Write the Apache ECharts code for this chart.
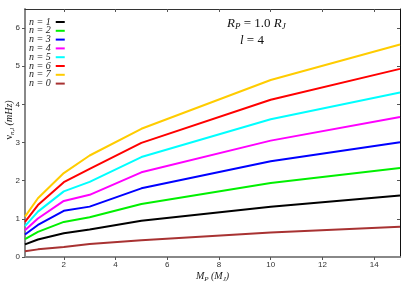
<!DOCTYPE html>
<html><head><meta charset="utf-8">
<script src="https://cdn.jsdelivr.net/npm/echarts@6/dist/echarts.min.js"></script>
<style>html,body{margin:0;padding:0;background:#fff}#c{width:415px;height:291px}</style>
</head><body><div id="c"></div>
<script>
var masses = [0.5, 1, 2, 3, 5, 10, 15];
var n1 = [0.33, 0.46, 0.62, 0.72, 0.95, 1.32, 1.61];
var n2 = [0.47, 0.66, 0.92, 1.04, 1.39, 1.94, 2.33];
var n3 = [0.59, 0.84, 1.21, 1.32, 1.80, 2.51, 3.01];
var n4 = [0.70, 1.01, 1.47, 1.63, 2.22, 3.05, 3.67];
var n5 = [0.81, 1.19, 1.72, 1.97, 2.62, 3.61, 4.31];
var n6 = [0.92, 1.36, 1.96, 2.31, 2.99, 4.12, 4.93];
var n7 = [1.06, 1.54, 2.20, 2.66, 3.36, 4.64, 5.57];
var n0 = [0.15, 0.20, 0.26, 0.34, 0.44, 0.64, 0.79];
var seriesNames = ['n = 1','n = 2','n = 3','n = 4','n = 5','n = 6','n = 7','n = 0'];
var seriesValues = [n1,n2,n3,n4,n5,n6,n7,n0];
var colors = ['#000000','#00f000','#0000ff','#ff00ff','#00ffff','#ff0000','#ffcc00','#a83232'];
var xTicks = [2,4,6,8,10,12,14];
var yTicks = [0,1,2,3,4,5,6];

var serif = '"Liberation Serif","DejaVu Serif",serif';
var sans = '"Liberation Sans","DejaVu Sans",sans-serif';

var series = seriesNames.map(function(name, i){
  return {
    name: name, type: 'line', symbol: 'none',
    lineStyle: {color: colors[i], width: 2},
    itemStyle: {color: colors[i]},
    data: masses.map(function(m, j){ return [m, seriesValues[i][j]]; }),
    xAxisIndex: 0, yAxisIndex: 0, z: 3
  };
});

var chart = echarts.init(document.getElementById('c'), null, {renderer:'canvas'});
chart.setOption({
  animation: false,
  backgroundColor: '#fff',
  grid: {left: 25, right: 15, top: 9, bottom: 34, containLabel: false, outerBoundsMode: 'none'},
  legend: {
    orient: 'vertical', left: 29, top: 17, align: 'right', padding: 0,
    icon: 'rect', itemWidth: 9, itemHeight: 2, itemGap: -1.2,
    textStyle: {fontFamily: serif, fontStyle: 'italic', fontSize: 10, lineHeight: 8, color: '#222', padding: [0, 0, 0, 0]},
    data: seriesNames
  },
  xAxis: [{
    type: 'value', min: 0.5, max: 15, position: 'bottom',
    name: '{i|M}{s|P}{i| (M}{s|J}{i|)}', nameLocation: 'middle', nameGap: 13, nameMoveOverlap: false,
    nameTextStyle: {rich: {
      i: {fontFamily: serif, fontStyle: 'italic', fontSize: 10, color: '#222'},
      s: {fontFamily: serif, fontStyle: 'italic', fontSize: 7, color: '#222', padding: [6,0,0,0]}
    }},
    axisLine: {onZero: false, lineStyle: {color: '#888', width: 2}},
    axisTick: {show: true, inside: false, length: 3, lineStyle: {color: '#555'}, customValues: xTicks},
    axisLabel: {fontFamily: sans, fontSize: 8, color: '#333', margin: 4, customValues: xTicks},
    splitLine: {show: false}
  }, {
    type: 'value', min: 0.5, max: 15, position: 'top',
    axisLine: {onZero: false, lineStyle: {color: '#333', width: 1}},
    axisTick: {show: true, inside: true, length: 3, lineStyle: {color: '#555'}, customValues: xTicks},
    axisLabel: {show: false},
    splitLine: {show: false}
  }],
  yAxis: [{
    type: 'value', min: 0, max: 6.5, interval: 1, position: 'left',
    name: '{g|ν}{s|n,l}{i| (mHz)}', nameLocation: 'middle', nameGap: 9, nameRotate: 90, nameMoveOverlap: false,
    nameTextStyle: {padding: [0, 0, 0, 26], rich: {
      g: {fontFamily: serif, fontSize: 10, color: '#222'},
      i: {fontFamily: serif, fontStyle: 'italic', fontSize: 10, color: '#222'},
      s: {fontFamily: serif, fontStyle: 'italic', fontSize: 7, color: '#222', padding: [6,0,0,0]}
    }},
    axisLine: {onZero: false, lineStyle: {color: '#888', width: 2}},
    axisTick: {show: true, inside: false, length: 3, lineStyle: {color: '#555'}, customValues: yTicks},
    axisLabel: {fontFamily: sans, fontSize: 8, color: '#333', margin: 5, customValues: yTicks},
    splitLine: {show: false}
  }, {
    type: 'value', min: 0, max: 6.5, interval: 1, position: 'right',
    axisLine: {onZero: false, lineStyle: {color: '#111', width: 1}},
    axisTick: {show: true, inside: true, length: 3, lineStyle: {color: '#555'}, customValues: [1,2,3,4,5,6]},
    axisLabel: {show: false},
    splitLine: {show: false}
  }],
  graphic: [{
    type: 'text', left: 227, top: 17,
    style: {
      text: '{i|R}{s|P}{u| = 1.0 }{i|R}{s|J}',
      rich: {
        i: {fontFamily: serif, fontStyle: 'italic', fontSize: 13, fill: '#111'},
        u: {fontFamily: serif, fontSize: 13, fill: '#111'},
        s: {fontFamily: serif, fontStyle: 'italic', fontSize: 9, fill: '#111', padding: [7,0,0,0]}
      }
    }
  }, {
    type: 'text', left: 240, top: 34,
    style: {
      text: '{i|l}{u| = 4}',
      rich: {
        i: {fontFamily: serif, fontStyle: 'italic', fontSize: 13, fill: '#111'},
        u: {fontFamily: serif, fontSize: 13, fill: '#111'}
      }
    }
  }],
  series: series
});
</script>
</body></html>
